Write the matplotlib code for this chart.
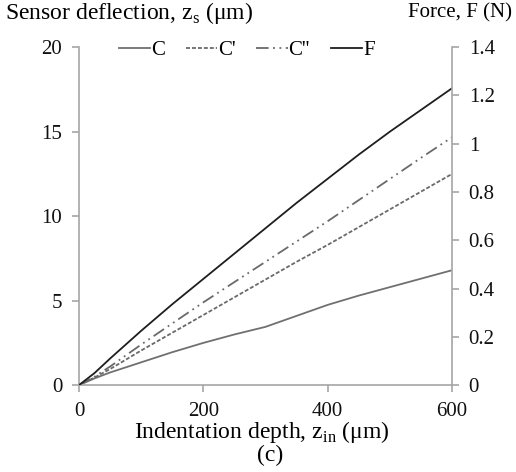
import numpy as np
import matplotlib
matplotlib.use("Agg")
import matplotlib.pyplot as plt

plt.rcParams['font.family'] = ['Liberation Serif', 'DejaVu Serif']
plt.rcParams['mathtext.fontset'] = 'custom'
plt.rcParams['mathtext.rm'] = 'Liberation Serif'

# indentation depth (um)
depth = [0, 25, 50, 100, 150, 200, 250, 300, 350, 400, 450, 500, 550, 600]
# sensor deflection (um)
c_defl = [0, 0.4, 0.75, 1.35, 1.95, 2.5, 3.0, 3.45, 4.1, 4.75, 5.3, 5.8, 6.3, 6.8]
c1_defl = [0, 0.45, 0.95, 2.05, 3.1, 4.15, 5.2, 6.25, 7.3, 8.3, 9.35, 10.4, 11.45, 12.5]
c2_defl = [0, 0.5, 1.1, 2.4, 3.65, 4.9, 6.1, 7.3, 8.5, 9.7, 10.95, 12.2, 13.45, 14.67]
# force (N)
force = [0, 0.05, 0.11, 0.225, 0.335, 0.44, 0.545, 0.65, 0.755, 0.855, 0.955, 1.05, 1.14, 1.23]

grey = '#a6a6a6'
lw = 1.3

fig = plt.figure(figsize=(5.16, 4.72), dpi=100)
ax = fig.add_axes([0.153, 0.184, 0.723, 0.716])
ax2 = ax.twinx()

l1, = ax.plot(depth, c_defl, color='#707070', lw=lw, label='C')
l2, = ax.plot(depth, c1_defl, color='#6a6a6a', lw=lw, ls=(0, (2.2, 1.1)), label="C'")
l3, = ax.plot(depth, c2_defl, color='#6a6a6a', lw=lw, ls=(0, (7, 2.5, 1, 2.5, 1, 2.5)), label="C''")
l4, = ax2.plot(depth, force, color='#1e1e1e', lw=lw, label='F')

ax.set_xlim(0, 600)
ax.set_ylim(0, 20)
ax2.set_ylim(0, 1.4)
ax.set_xticks([0, 200, 400, 600])
ax.set_yticks([0, 5, 10, 15, 20])
ax2.set_yticks([0, 0.2, 0.4, 0.6, 0.8, 1, 1.2, 1.4])
ax2.set_yticklabels(['0', '0.2', '0.4', '0.6', '0.8', '1', '1.2', '1.4'])

for a in (ax, ax2):
    a.spines['top'].set_visible(False)
    for s in ('left', 'right', 'bottom'):
        a.spines[s].set_color(grey)
        a.spines[s].set_linewidth(1.2)
    a.tick_params(colors=grey, labelcolor='#111111', width=1.2, length=5,
                  labelsize=15, pad=7)
ax.spines['right'].set_visible(False)
ax2.spines['left'].set_visible(False)
ax2.spines['bottom'].set_visible(False)

fig.text(0.508, 0.085, 'Indentation depth, z$_\\mathregular{in}$ (\u03bcm)',
         ha='center', va='center', fontsize=17)
fig.text(0.523, 0.034, '(c)', ha='center', va='center', fontsize=17)
fig.text(0.01, 0.972, 'Sensor deflection, z$_\\mathregular{s}$ (\u03bcm)',
         ha='left', va='center', fontsize=17)
fig.text(0.992, 0.972, 'Force, F (N)', ha='right', va='center', fontsize=15)

fig.legend(handles=[l1, l2, l3, l4], loc='center', bbox_to_anchor=(0.478, 0.894),
           ncol=4, frameon=False, fontsize=15, handlelength=1.5, handletextpad=0.05,
           columnspacing=1.0, borderpad=0, borderaxespad=0)

fig.savefig('out.png', dpi=100)
